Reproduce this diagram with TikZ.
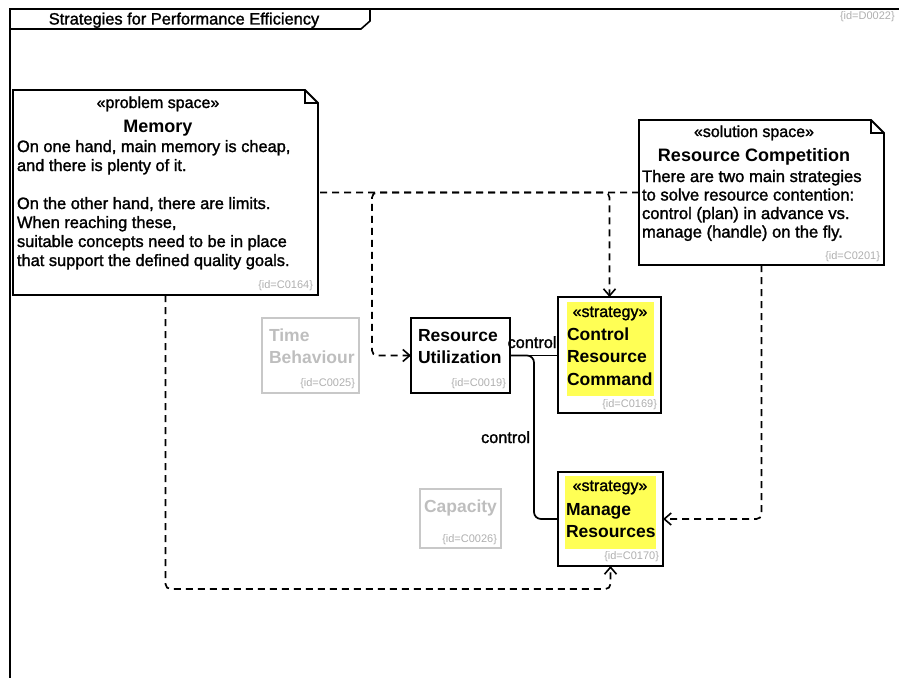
\documentclass[tikz,border=0pt]{standalone}
\usepackage{fontspec}
\setmainfont{Liberation Sans}
\newfontfamily\medfont[FakeBold=1.5]{Liberation Sans}
\usetikzlibrary{arrows.meta,calc}
\definecolor{idgray}{RGB}{175,175,175}
\definecolor{ghost}{RGB}{200,200,200}
\definecolor{ghosttext}{RGB}{190,190,190}
\definecolor{hilite}{RGB}{255,255,85}
% UML note outline with a folded top-right corner
\newcommand\umlnote[1]{%
  \draw[noteline] (#1.north west) -- ([xshift=-13pt]#1.north east)
    -- ([yshift=-13pt]#1.north east) -- (#1.south east) -- (#1.south west) -- cycle;
  \draw[noteline] ([xshift=-13pt]#1.north east) |- ([yshift=-13pt]#1.north east);}
\begin{document}
\begin{tikzpicture}[x=1pt,y=-1pt,
  every node/.style={inner sep=0pt,outer sep=0pt},
  noteline/.style={draw=black,line width=1.8pt,line join=miter},
  holder/.style={anchor=north west,draw=none},
  classbox/.style={anchor=north west,draw=black,line width=1.8pt},
  ghostbox/.style={anchor=north west,draw=ghost,line width=1.8pt},
  body/.style={font=\medfont\fontsize{16.4}{19}\selectfont,align=left,anchor=base west},
  ster/.style={font=\medfont\fontsize{16}{18}\selectfont,anchor=base},
  notename/.style={font=\bfseries\fontsize{18}{21}\selectfont,anchor=base},
  boxname/.style={font=\bfseries\fontsize{17.5}{21.5}\selectfont,align=left,anchor=base west},
  idtag/.style={font=\fontsize{11}{13}\selectfont,text=idgray,anchor=base east},
  depend/.style={draw=black,line width=1.7pt,dash pattern=on 7pt off 5pt,rounded corners=5pt,
    -{Straight Barb[length=7pt,width=12pt,line width=1.6pt]}},
  ctrl/.style={draw=black,line width=1.7pt,rounded corners=7pt},
  lbl/.style={font=\medfont\fontsize{16.3}{18}\selectfont}]
\useasboundingbox (0,0) rectangle (899,677);
\clip (0,0) rectangle (899,677);

% diagram frame with its name tab
\draw[line width=1.6pt] (10,680) -- (10,9) -- (905,9);
\draw[line width=1.6pt] (10,29) -- (361,29) -- (370,21) -- (370,9);
\node[font=\medfont\fontsize{16.4}{18}\selectfont,anchor=base] (frametitle) at (184,24.5) {Strategies for Performance Efficiency};
\node[idtag,anchor=base west] (frameid) at (840,20) {\{id=D0022\}};

% problem space note
\node[holder,minimum width=305pt,minimum height=205pt] (mem) at (13,90) {};
\umlnote{mem}
\node[ster] (memster) at (158,108) {«problem space»};
\node[notename] (memname) at (158,132) {Memory};
\node[body] (membody) at (17,266) {On one hand, main memory is cheap,\\and there is plenty of it.\\[19pt]On the other hand, there are limits.\\When reaching these,\\suitable concepts need to be in place\\that support the defined quality goals.};
\node[idtag] (memid) at (313,288) {\{id=C0164\}};

% solution space note
\node[holder,minimum width=245pt,minimum height=145pt] (sol) at (639,120) {};
\umlnote{sol}
\node[ster] (solster) at (754,137) {«solution space»};
\node[notename] (solname) at (754,161) {Resource Competition};
\node[body,font=\medfont\fontsize{16.6}{18.5}\selectfont] (solbody) at (642,237.5) {There are two main strategies\\to solve resource contention:\\control (plan) in advance vs.\\manage (handle) on the fly.};
\node[idtag] (solid) at (880,259) {\{id=C0201\}};

% quality characteristics
\node[ghostbox,minimum width=97pt,minimum height=75pt] (tb) at (262,318) {};
\node[boxname,text=ghosttext] (tbname) at (269,363) {Time\\Behaviour};
\node[idtag] (tbid) at (355,386) {\{id=C0025\}};

\node[classbox,minimum width=99pt,minimum height=75pt] (ru) at (411,318) {};
\node[boxname] (runame) at (418,363) {Resource\\Utilization};
\node[idtag] (ruid) at (506,386) {\{id=C0019\}};

\node[ghostbox,minimum width=81pt,minimum height=59pt] (cap) at (420,489) {};
\node[boxname,text=ghosttext] (capname) at (424,512) {Capacity};
\node[idtag] (capid) at (497,542) {\{id=C0026\}};

% strategies
\node[classbox,minimum width=103pt,minimum height=116pt] (crc) at (558,297) {};
\fill[hilite] (567,302) rectangle (654,396);
\node[ster] (crcster) at (610,317) {«strategy»};
\node[boxname,font=\bfseries\fontsize{17.5}{22.5}\selectfont] (crcname) at (567,385) {Control\\Resource\\Command};
\node[idtag] (crcid) at (657,407) {\{id=C0169\}};

\node[classbox,minimum width=105pt,minimum height=94pt] (mr) at (558,472) {};
\fill[hilite] (565,476) rectangle (656,549);
\node[ster] (mrster) at (610,491) {«strategy»};
\node[boxname,font=\bfseries\fontsize{17.5}{22}\selectfont] (mrname) at (566,537) {Manage\\Resources};
\node[idtag] (mrid) at (659,559) {\{id=C0170\}};

% dependencies
\draw[depend,dash phase=10pt] (mem.east) -| (crc.north);
\draw[depend] (sol.west) -- ++(-267,0) |- (ru.west);
\draw[depend] (mem.south) |- ([yshift=-23pt]mr.south) -- (mr.south);
\draw[depend] (sol.south) |- (mr.east);

% control relations
\draw[ctrl] (ru.east) -- (ru.east -| crc.west);
\node[lbl,anchor=base east] (ctrl1) at (556.5,348) {control};
\draw[ctrl] (ru.east) -- ++(24,0) |- (mr.west);
\node[lbl,anchor=base east] (ctrl2) at (530,443) {control};
\end{tikzpicture}
\end{document}
